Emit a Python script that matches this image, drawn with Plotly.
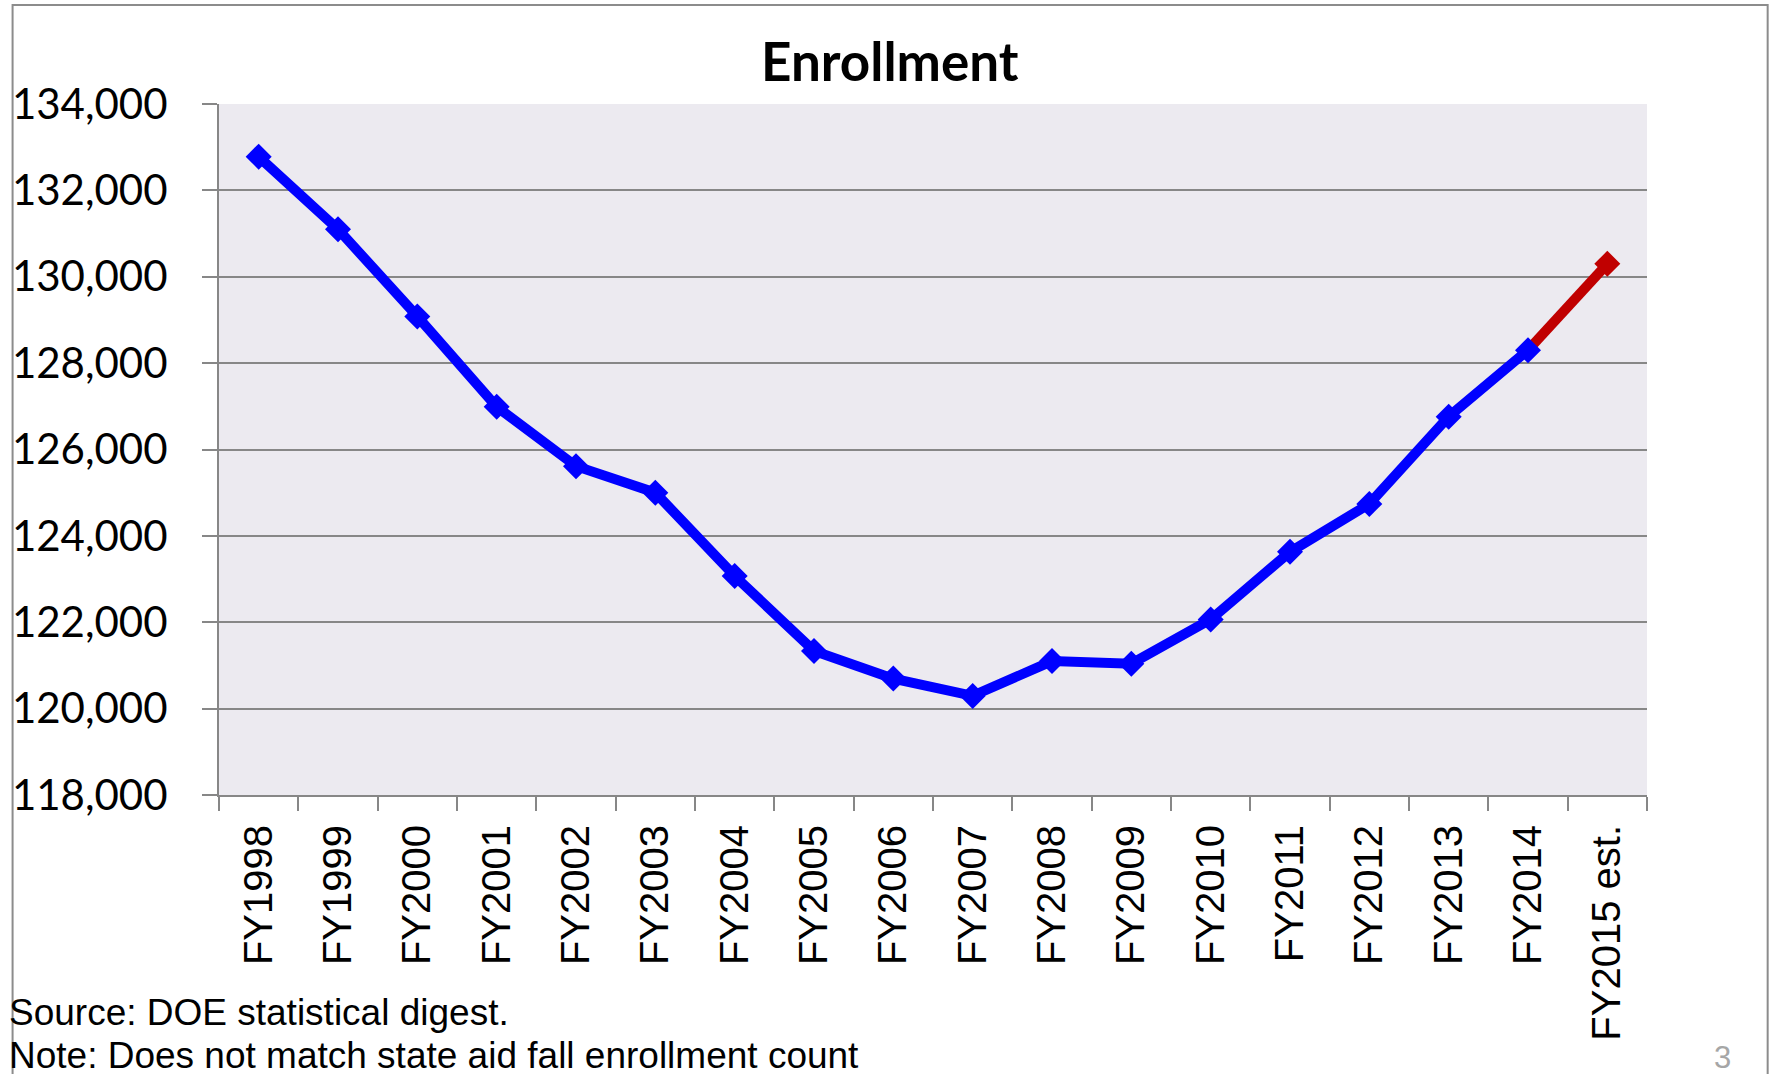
import plotly.graph_objects as go

categories = ["FY1998", "FY1999", "FY2000", "FY2001", "FY2002", "FY2003", "FY2004",
              "FY2005", "FY2006", "FY2007", "FY2008", "FY2009", "FY2010", "FY2011",
              "FY2012", "FY2013", "FY2014", "FY2015 est."]
enrollment = [132780, 131100, 129080, 126990, 125615, 125000, 123070,
              121335, 120695, 120295, 121100, 121040, 122065, 123630,
              124740, 126760, 128300, 130300]
estimate_start = 16  # index where the estimated (red) segment begins

title_text = "Enrollment"
source_lines = ["Source: DOE statistical digest.",
                "Note: Does not match state aid fall enrollment count"]
page_number = "3"

W, H = 1769, 1074
L, R, T, B = 215, 1647, 104, 795

def px(x):
    return (x - L) / (R - L)

def py(y):
    return (B - y) / (B - T)

fig = go.Figure()

# estimated segment (red line)
fig.add_trace(go.Scatter(
    x=categories[estimate_start:], y=enrollment[estimate_start:],
    mode="lines",
    line=dict(color="#C00000", width=10),
    hoverinfo="x+y", showlegend=False, cliponaxis=False,
))
# actual (blue)
fig.add_trace(go.Scatter(
    x=categories[:estimate_start + 1], y=enrollment[:estimate_start + 1],
    mode="lines+markers",
    line=dict(color="#0000FF", width=10),
    marker=dict(symbol="diamond", size=20, color="#0000FF", line=dict(width=0)),
    hoverinfo="x+y", showlegend=False, cliponaxis=False,
))
# estimated marker (red)
fig.add_trace(go.Scatter(
    x=categories[estimate_start + 1:], y=enrollment[estimate_start + 1:],
    mode="markers",
    marker=dict(symbol="diamond", size=20, color="#C00000", opacity=1, line=dict(width=0)),
    hoverinfo="x+y", showlegend=False, cliponaxis=False,
))

grid = "#878787"
fig.update_layout(
    width=W, height=H,
    margin=dict(l=L, r=W - R, t=T, b=H - B, pad=0),
    paper_bgcolor="white",
    plot_bgcolor="#ECEAF0",
    showlegend=False,
    xaxis=dict(
        type="category",
        categoryorder="array", categoryarray=categories,
        range=[-0.5, len(categories) - 0.5],
        tickson="boundaries",
        ticks="outside", ticklen=14, tickwidth=2, tickcolor=grid,
        showline=True, linecolor=grid, linewidth=2,
        showgrid=False,
        tickangle=-90,
        tickfont=dict(family="Liberation Sans, Arial", size=40, color="black"),
        ticklabelstandoff=12,
    ),
    yaxis=dict(
        range=[118000, 134000],
        dtick=2000, tick0=118000,
        tickformat=",",
        ticks="outside", ticklen=15, tickwidth=2, tickcolor=grid,
        showline=True, linecolor=grid, linewidth=2,
        showgrid=True, gridcolor=grid, gridwidth=2,
        zeroline=False,
        tickfont=dict(family="Lato", size=42, color="black"),
        ticklabelstandoff=26,
    ),
    shapes=[
        dict(type="rect", xref="paper", yref="paper",
             x0=px(8), x1=px(1768), y0=py(1090), y1=py(5),
             line=dict(color="#8C8C8C", width=2), fillcolor="rgba(0,0,0,0)", layer="above"),
    ],
)

annotations = [
    dict(text="<b>" + title_text + "</b>", xref="paper", yref="paper",
         x=px(888), y=py(60), xanchor="center", yanchor="middle", showarrow=False,
         font=dict(family="Lato", size=53, color="black")),
    dict(text=source_lines[0], xref="paper", yref="paper",
         x=px(2), y=py(1012), xanchor="left", yanchor="middle", showarrow=False,
         font=dict(family="Liberation Sans, Arial", size=37, color="black")),
    dict(text=source_lines[1], xref="paper", yref="paper",
         x=px(2), y=py(1055), xanchor="left", yanchor="middle", showarrow=False,
         font=dict(family="Liberation Sans, Arial", size=37, color="black")),
    dict(text=page_number, xref="paper", yref="paper",
         x=px(1723), y=py(1057), xanchor="center", yanchor="middle", showarrow=False,
         font=dict(family="Liberation Sans, Arial", size=31, color="#A6A6A6")),
]
fig.update_layout(annotations=annotations)

fig.write_html("out.html")
